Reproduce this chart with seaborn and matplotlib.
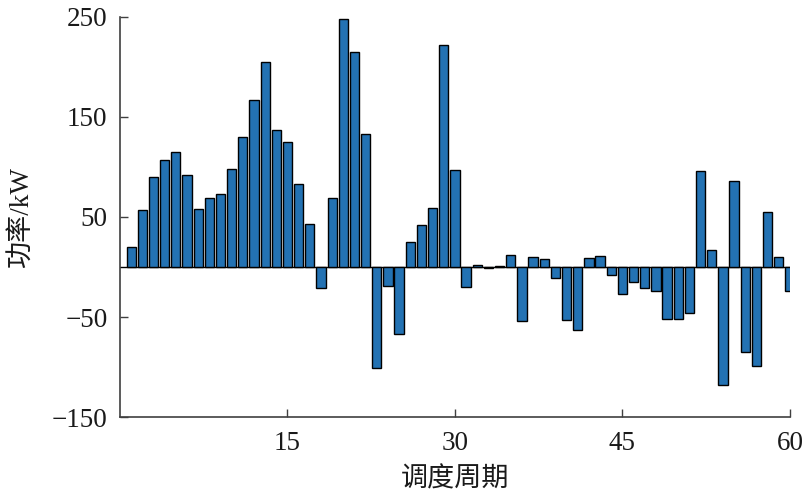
import numpy as np
import pandas as pd
import matplotlib
matplotlib.use('Agg')
import matplotlib.pyplot as plt
import seaborn as sns

# 调度周期 1..60
periods = list(range(1, 61))
power = [20, 57, 90, 107, 115, 92, 58, 69, 73, 98,
         130, 167, 205, 137, 125, 83, 43, -21, 69, 248,
         215, 133, -101, -19, -67, 25, 42, 59, 222, 97,
         -20, 2, -1, 1, 12, -54, 10, 8, -11, -53,
         -63, 9, 11, -8, -27, -15, -21, -24, -52, -52,
         -46, 96, 17, -118, 86, -85, -99, 55, 10, -24]
xticks = [15, 30, 45, 60]
yticks = [-150, -50, 50, 150, 250]

sns.set_theme(style='white')
plt.rcParams['font.family'] = ['Liberation Serif', 'Noto Sans CJK SC', 'DejaVu Sans']
plt.rcParams['axes.unicode_minus'] = True

df = pd.DataFrame({'period': periods, 'power': power})

fig = plt.figure(figsize=(8.06, 4.91), dpi=100)
ax = fig.add_axes([0.1489, 0.1507, 0.8311, 0.8147])

sns.barplot(data=df, x='period', y='power', native_scale=True, width=0.83,
            color='#2372b3', saturation=1, edgecolor='black', linewidth=1.0, ax=ax)
ax.axhline(0, color='black', linewidth=1.0, zorder=0.5)

ax.set_xlim(0, 60)
ax.set_ylim(-150, 250)
ax.set_xticks(xticks)
ax.set_yticks(yticks)
ax.set_yticklabels(['\u2212150', '\u221250', '50', '150', '250'])

for side in ['top', 'right']:
    ax.spines[side].set_visible(False)
for side in ['left', 'bottom']:
    ax.spines[side].set_color('#404040')
    ax.spines[side].set_linewidth(1.2)

ax.tick_params(axis='both', direction='in', length=6, width=1.0, color='#404040',
               bottom=True, left=True, labelsize=19.5, labelcolor='#1a1a1a')
ax.tick_params(axis='x', pad=10)
ax.tick_params(axis='y', pad=9)
ax.set_xlabel('调度周期', fontsize=19.5, color='#1a1a1a', labelpad=8)
ax.set_ylabel('功率/kW', fontsize=19.5, color='#1a1a1a', labelpad=12)

fig.savefig('out.png', dpi=100)
